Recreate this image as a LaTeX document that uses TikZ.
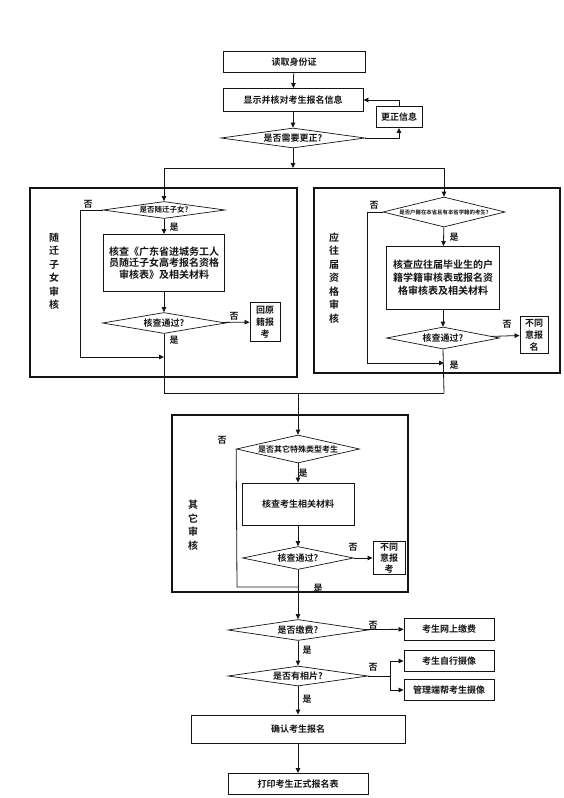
\documentclass[tikz,border=0pt]{standalone}
\usepackage{fontspec}
\setmainfont{Noto Sans CJK SC}[BoldFont={Noto Sans CJK SC Bold}]
\usepackage{xcolor}
\usepackage{tikz}
\usetikzlibrary{arrows.meta,shapes.geometric}
\definecolor{ink}{RGB}{20,20,20}
\tikzset{
  procbox/.style={draw=ink,line width=0.9pt,fill=white,align=center,inner sep=1pt,
    text=ink,font=\bfseries\fontsize{9}{11}\selectfont},
  decision/.style={diamond,draw=ink,line width=0.7pt,aspect=6,inner sep=0pt,
    text=ink,font=\bfseries\fontsize{9}{11}\selectfont},
  panel/.style={draw=ink,line width=1.1pt},
  flow/.style={line width=0.8pt,ink,-{Triangle[length=5pt,width=4.5pt]}},
  link/.style={line width=0.8pt,ink},
  yesno/.style={text=ink,font=\bfseries\fontsize{9}{9}\selectfont},
  sidetag/.style={text=ink,align=center,font=\bfseries\fontsize{10}{13.5}\selectfont}
}

\begin{document}
\begin{tikzpicture}[x=1pt,y=-1pt]
  \useasboundingbox (0,0) rectangle (564,798);

  % top part
  \node[procbox,minimum width=142pt,minimum height=21pt] (readid) at (294,62) {读取身份证};
  \node[procbox,minimum width=140pt,minimum height=23pt] (showinfo) at (293,100) {显示并核对考生报名信息};
  \node[decision,minimum width=144pt,minimum height=20pt] (needfix) at (293,138) {是否需要更正?};
  \node[procbox,minimum width=46pt,minimum height=21pt] (fixinfo) at (399,117) {更正信息};
  \draw[flow] (readid) -- (showinfo);
  \draw[flow] (showinfo) -- (needfix);
  \draw[flow] (needfix.east) -| (fixinfo.south);
  \draw[flow] (fixinfo.north) |- (showinfo.east);

  \coordinate (split) at (293,168);
  \coordinate (splitL) at (164,168);
  \coordinate (splitR) at (444,168);
  \draw[flow] (needfix.south) -- (split);
  \draw[link] (splitL) -- (splitR);

  % panels
  \node[panel,minimum width=267pt,minimum height=189pt] (leftpanel) at (163.5,282.5) {};
  \node[panel,minimum width=246pt,minimum height=185pt] (rightpanel) at (437,280.5) {};
  \node[panel,minimum width=236pt,minimum height=177pt] (midpanel) at (290,503.5) {};

  % left panel
  \node[sidetag] (tagL) at (54,271) {随\\迁\\子\\女\\审\\核};
  \node[decision,minimum width=122pt,minimum height=17pt,
    font=\bfseries\fontsize{7.5}{8}\selectfont] (isfollow) at (164,210) {是否随迁子女?};
  \node[procbox,minimum width=121pt,minimum height=57pt,
    font=\bfseries\fontsize{10}{11.5}\selectfont] (checkfollow) at (164,263)
    {核查《广东省进城务工人\\员随迁子女高考报名资格\\审核表》及相关材料};
  \node[decision,minimum width=123pt,minimum height=21pt] (passL) at (164,323) {核查通过?};
  \node[procbox,minimum width=30pt,minimum height=39pt,inner sep=0pt,
    font=\bfseries\fontsize{9}{12}\selectfont] (backhome) at (265,322) {回原\\籍报\\考};
  \coordinate (bypassL) at (80,357);
  \coordinate (joinL) at (164,357);
  \coordinate (mergeL) at (164,393);
  \draw[flow] (splitL) -- (isfollow.north);
  \draw[flow] (isfollow) -- (checkfollow);
  \draw[flow] (checkfollow) -- (passL);
  \draw[flow] (passL) -- (backhome);
  \draw[flow] (isfollow.west) -| (bypassL) -- (joinL);
  \draw[link] (passL.south) -- (mergeL);
  \node[yesno] (noA) at (88,204) {否};
  \node[yesno] (yesA) at (174,227) {是};
  \node[yesno] (noB) at (234,316) {否};
  \node[yesno] (yesB) at (174,340) {是};

  % right panel
  \node[sidetag] (tagR) at (334,278) {应\\往\\届\\资\\格\\审\\核};
  \node[decision,aspect=4,minimum width=122pt,minimum height=30pt,
    font=\bfseries\fontsize{5.4}{6}\selectfont] (islocal) at (444,212) {是否户籍在本省且有本省学籍的考生?};
  \node[procbox,minimum width=113pt,minimum height=63pt,
    font=\bfseries\fontsize{10}{13}\selectfont] (checklocal) at (443,278)
    {核查应往届毕业生的户\\籍学籍审核表或报名资\\格审核表及相关材料};
  \node[decision,minimum width=113pt,minimum height=22pt] (passR) at (443,338) {核查通过?};
  \node[procbox,minimum width=28pt,minimum height=37pt,inner sep=0pt,
    font=\bfseries\fontsize{9}{12}\selectfont] (refuseR) at (534,335) {不同\\意报\\名};
  \coordinate (bypassR) at (367,363);
  \coordinate (joinR) at (444,363);
  \coordinate (mergeR) at (444,393);
  \draw[flow] (splitR) -- (islocal.north);
  \draw[flow] (islocal) -- (checklocal);
  \draw[flow] (checklocal) -- (passR);
  \draw[flow] (passR) -- (refuseR);
  \draw[flow] (islocal.west) -| (bypassR) -- (joinR);
  \draw[link] (passR.south) -- (mergeR);
  \node[yesno] (noC) at (374,205) {否};
  \node[yesno] (yesC) at (454,237) {是};
  \node[yesno] (noD) at (507,324) {否};
  \node[yesno] (yesD) at (454,365) {是};

  % merge into other check
  \coordinate (mergeM) at (298,393);
  \draw[link] (mergeL) -- (mergeR);

  % middle panel
  \node[sidetag] (tagM) at (193,525) {其\\它\\审\\核};
  \node[decision,aspect=4.5,minimum width=123pt,minimum height=28pt,
    font=\bfseries\fontsize{8}{9}\selectfont] (isother) at (298,449) {是否其它特殊类型考生};
  \node[procbox,minimum width=112pt,minimum height=42pt] (checkother) at (298,504) {核查考生相关材料};
  \node[decision,minimum width=111pt,minimum height=23pt] (passM) at (298,558) {核查通过?};
  \node[procbox,minimum width=32pt,minimum height=33pt,inner sep=0pt,
    font=\bfseries\fontsize{9}{11}\selectfont] (refuseM) at (389,558) {不同\\意报\\考};
  \coordinate (bypassM) at (237,587);
  \coordinate (joinM) at (298,587);
  \draw[flow] (mergeM) -- (isother.north);
  \draw[flow] (isother) -- (checkother);
  \draw[flow] (checkother) -- (passM);
  \draw[flow] (passM) -- (refuseM);
  \draw[link] (isother.west) -- (bypassM) -- (joinM);
  \node[yesno] (noE) at (222,440) {否};
  \node[yesno] (yesE) at (303,473) {是};
  \node[yesno] (noF) at (353,547) {否};
  \node[yesno] (yesF) at (318,588) {是};

  % fee and photo
  \node[decision,minimum width=140pt,minimum height=21pt] (isfee) at (298,630) {是否缴费?};
  \node[procbox,minimum width=90pt,minimum height=22pt] (payonline) at (449,629) {考生网上缴费};
  \node[decision,minimum width=140pt,minimum height=20pt] (hasphoto) at (298,676) {是否有相片?};
  \node[procbox,minimum width=90pt,minimum height=21pt] (selfshot) at (449,661) {考生自行摄像};
  \node[procbox,minimum width=90pt,minimum height=21pt] (adminshot) at (449,690) {管理端帮考生摄像};
  \coordinate (branch) at (390,676);
  \draw[flow] (passM) -- (isfee);
  \draw[flow] (isfee) -- (payonline);
  \draw[flow] (isfee) -- (hasphoto);
  \draw[link] (hasphoto.east) -- (branch);
  \draw[flow] (branch) |- (selfshot.west);
  \draw[flow] (branch) |- (adminshot.west);
  \node[yesno] (noG) at (373,625) {否};
  \node[yesno] (yesG) at (307,650) {是};
  \node[yesno] (noH) at (373,667) {否};
  \node[yesno] (yesH) at (307,699) {是};

  % end
  \node[procbox,minimum width=214pt,minimum height=28pt] (confirm) at (298,729) {确认考生报名};
  \node[procbox,minimum width=140pt,minimum height=21pt] (printform) at (298,784) {打印考生正式报名表};
  \draw[flow] (hasphoto) -- (confirm);
  \draw[flow] (confirm) -- (printform);
\end{tikzpicture}
\end{document}
